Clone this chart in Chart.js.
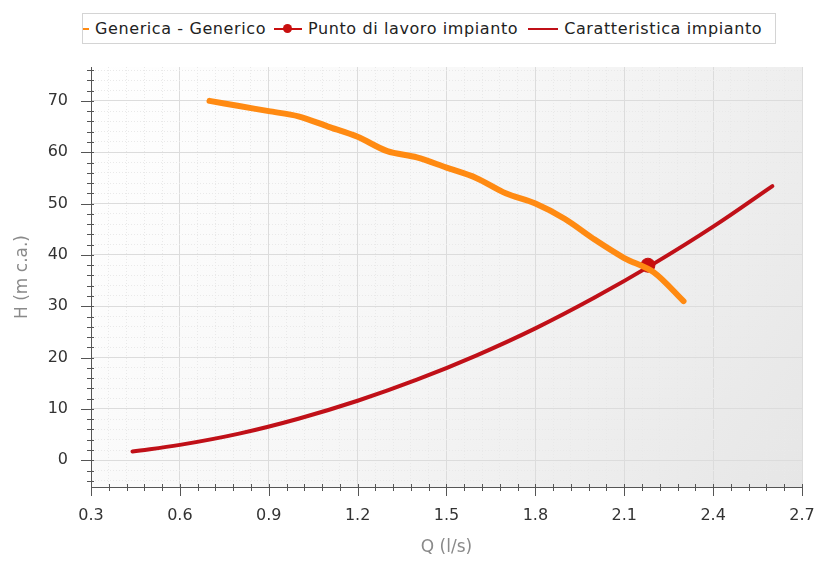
<!DOCTYPE html>
<html>
<head>
<meta charset="utf-8">
<script src="https://cdn.jsdelivr.net/npm/chart.js@4.4.1/dist/chart.umd.min.js"></script>
<style>
  html, body { margin: 0; padding: 0; background: #fff; }
  #wrap { position: relative; width: 817px; height: 561px; }
  #legend {
    position: absolute; left: 82px; top: 13px; width: 694px; height: 31px;
    border: 1px solid #d4d4d4; background: #fff; box-sizing: border-box;
    display: flex; align-items: center; font-family: "DejaVu Sans", sans-serif;
    font-size: 16px; letter-spacing: 0.6px; color: #222; white-space: nowrap; overflow: hidden;
  }
  .item { display: flex; align-items: center; margin-right: 8px; }
  .sym { position: relative; height: 12px; margin-right: 6px; flex: none; }
  .sym .ln { position: absolute; left: 0; right: 0; top: 5px; height: 2px; }
  .sym .dot { position: absolute; left: 50%; top: 1px; width: 9px; height: 9px; margin-left: -5px; border-radius: 50%; }
</style>
</head>
<body>
<div id="wrap">
  <canvas id="chart" width="817" height="561"></canvas>
  <div id="legend"></div>
</div>
<script>
const pumpQ = [0.7, 0.8, 0.9, 1.0, 1.1, 1.2, 1.3, 1.4, 1.5, 1.6, 1.7, 1.8, 1.9, 2.0, 2.1, 2.2, 2.3];
const pumpH = [70.0, 69.0, 68.0, 67.0, 65.0, 63.0, 60.2, 59.0, 57.0, 55.0, 52.0, 50.0, 47.0, 43.0, 39.4, 36.6, 31.0];
const systemQ = [0.44, 0.6, 0.8, 1.0, 1.2, 1.4, 1.6, 1.8, 2.0, 2.2, 2.4, 2.6];
const systemH = [1.7, 3.0, 5.2, 8.1, 11.6, 15.7, 20.4, 25.7, 31.7, 38.3, 45.5, 53.4];
const workQ = [2.18];
const workH = [38.0];
const xTickLabels = [0.3, 0.6, 0.9, 1.2, 1.5, 1.8, 2.1, 2.4, 2.7];
const yTickLabels = [0, 10, 20, 30, 40, 50, 60, 70];
const seriesNames = ["Generica - Generico", "Punto di lavoro impianto", "Caratteristica impianto"];
const seriesColors = ["#ff8a12", "#c80f0f", "#c01018"];

const xMinorStep = 0.06, yMinorStep = 2;
const xMin = 0.3, xMax = 2.7, yMin = -5.2, yMax = 76.6;

function toPoints(xs, ys) { return xs.map((x, i) => ({ x: x, y: ys[i] })); }
function isMajorX(v) { return xTickLabels.some(t => Math.abs(t - v) < 1e-6); }
function isMajorY(v) { return yTickLabels.some(t => Math.abs(t - v) < 1e-6); }

// legend (html)
const legend = document.getElementById('legend');
const legendDefs = [
  { w: 8, dot: false, ml: -2 },
  { w: 28, dot: true, ml: 0 },
  { w: 30, dot: false, ml: 2 }
];
seriesNames.forEach((name, i) => {
  const it = document.createElement('div');
  it.className = 'item';
  const d = legendDefs[i];
  it.innerHTML = '<span class="sym" style="width:' + d.w + 'px;margin-left:' + d.ml + 'px"><span class="ln" style="background:' + seriesColors[i] + '"></span>' +
    (d.dot ? '<span class="dot" style="background:' + seriesColors[i] + '"></span>' : '') + '</span><span>' + name + '</span>';
  legend.appendChild(it);
});

const minorX = [];
for (let v = xMin; v <= xMax + 1e-9; v += xMinorStep) minorX.push(+v.toFixed(4));
const minorY = [];
for (let v = -4; v <= 76 + 1e-9; v += yMinorStep) minorY.push(v);

const plotDecor = {
  id: 'plotDecor',
  beforeDraw(chart) {
    const { ctx, chartArea: a } = chart;
    const g = ctx.createLinearGradient(a.left, a.top, a.right, a.bottom);
    g.addColorStop(0, '#ffffff');
    g.addColorStop(0.45, '#f7f7f7');
    g.addColorStop(1, '#e6e6e6');
    ctx.save();
    ctx.fillStyle = g;
    ctx.fillRect(a.left, a.top, a.right - a.left, a.bottom - a.top);
    ctx.restore();
  },
  afterDraw(chart) {
    const { ctx, chartArea: a, scales } = chart;
    ctx.save();
    ctx.strokeStyle = '#555';
    ctx.lineWidth = 1;
    ctx.beginPath();
    scales.x.ticks.forEach(t => {
      const px = Math.round(scales.x.getPixelForValue(t.value)) + 0.5;
      const major = isMajorX(t.value);
      ctx.moveTo(px, a.bottom - 3);
      ctx.lineTo(px, a.bottom + (major ? 9 : 4));
    });
    scales.y.ticks.forEach(t => {
      const py = Math.round(scales.y.getPixelForValue(t.value)) + 0.5;
      const major = isMajorY(t.value);
      ctx.moveTo(a.left + 3, py);
      ctx.lineTo(a.left - (major ? 10 : 4), py);
    });
    ctx.stroke();
    ctx.restore();
  }
};

new Chart(document.getElementById('chart').getContext('2d'), {
  type: 'scatter',
  data: {
    datasets: [
      {
        label: seriesNames[0],
        data: toPoints(pumpQ, pumpH),
        showLine: true,
        borderColor: seriesColors[0],
        borderWidth: 6,
        pointRadius: 0,
        tension: 0.3,
        borderCapStyle: 'round',
        borderJoinStyle: 'round',
        order: 0
      },
      {
        label: seriesNames[1],
        data: toPoints(workQ, workH),
        showLine: false,
        backgroundColor: seriesColors[1],
        borderColor: seriesColors[1],
        pointRadius: 7,
        order: 1
      },
      {
        label: seriesNames[2],
        data: toPoints(systemQ, systemH),
        showLine: true,
        borderColor: seriesColors[2],
        borderWidth: 4,
        pointRadius: 0,
        tension: 0.4,
        borderCapStyle: 'round',
        order: 2
      }
    ]
  },
  options: {
    responsive: false,
    devicePixelRatio: 1,
    animation: false,
    layout: { padding: { top: 67, right: 0, left: 0, bottom: 0 } },
    plugins: { legend: { display: false }, tooltip: { enabled: false } },
    scales: {
      x: {
        type: 'linear',
        min: xMin, max: xMax,
        afterBuildTicks: s => { s.ticks = minorX.map(v => ({ value: v })); },
        afterFit: s => { s.height = 74; s.paddingRight = 15; s.paddingLeft = 0; },
        grid: {
          drawTicks: false,
          color: c => isMajorX(c.tick.value) ? '#dcdcdc' : '#e9e9e9',
          lineWidth: 1
        },
        border: { color: '#555', width: 1, dash: c => isMajorX(c.tick.value) ? [] : [1, 2] },
        ticks: {
          padding: 19,
          color: '#333',
          font: { family: 'DejaVu Sans', size: 16 },
          maxRotation: 0,
          autoSkip: false,
          callback: v => isMajorX(v) ? (Math.round(v * 10) / 10).toFixed(1) : ''
        },
        title: {
          display: true, text: 'Q (l/s)', color: '#8a8a8a',
          font: { family: 'DejaVu Sans', size: 17 }, padding: { top: 0, bottom: 3 }
        }
      },
      y: {
        type: 'linear',
        min: yMin, max: yMax,
        afterBuildTicks: s => { s.ticks = minorY.map(v => ({ value: v })); },
        afterFit: s => { s.width = 91; },
        grid: {
          drawTicks: false,
          color: c => isMajorY(c.tick.value) ? '#dcdcdc' : '#e9e9e9',
          lineWidth: 1
        },
        border: { color: '#555', width: 1, dash: c => isMajorY(c.tick.value) ? [] : [1, 2] },
        ticks: {
          padding: 23,
          color: '#333',
          font: { family: 'DejaVu Sans', size: 16 },
          autoSkip: false,
          callback: v => isMajorY(v) ? String(v) : ''
        },
        title: {
          display: true, text: 'H (m c.a.)', color: '#8a8a8a',
          font: { family: 'DejaVu Sans', size: 17 }, padding: { top: 12, bottom: 0 }
        }
      }
    }
  },
  plugins: [plotDecor]
});
</script>
</body>
</html>
